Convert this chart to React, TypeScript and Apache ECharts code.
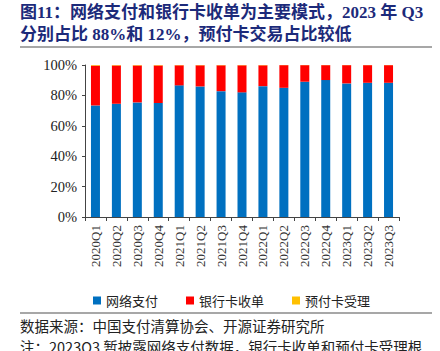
import React, { useEffect, useRef } from "react";
import * as echarts from "echarts";

const categories = [
  "2020Q1", "2020Q2", "2020Q3", "2020Q4",
  "2021Q1", "2021Q2", "2021Q3", "2021Q4",
  "2022Q1", "2022Q2", "2022Q3", "2022Q4",
  "2023Q1", "2023Q2", "2023Q3",
];
const onlinePay = [73.4, 74.5, 75.4, 75.0, 86.6, 85.9, 82.8, 82.0, 86.1, 85.0, 89.0, 90.1, 87.9, 88.3, 88.3];
const bankCard = [26.2, 25.2, 24.3, 24.7, 13.2, 13.9, 17.0, 17.8, 13.7, 14.9, 10.9, 9.8, 12.0, 11.6, 11.6];
const prepaidCard = [0.4, 0.3, 0.3, 0.3, 0.2, 0.2, 0.2, 0.2, 0.2, 0.1, 0.1, 0.1, 0.1, 0.1, 0.1];
const yTicks = [0, 20, 40, 60, 80, 100];

const titleLine1 = "图11：网络支付和银行卡收单为主要模式，2023 年 Q3";
const titleLine2 = "分别占比 88%和 12%，预付卡交易占比较低";
const sourceText = "数据来源：中国支付清算协会、开源证券研究所";
const noteText = "注：2023Q3 暂披露网络支付数据，银行卡收单和预付卡受理根";

const SERIF = "'Liberation Serif', 'Noto Sans CJK SC', serif";
const CJK = "'Noto Sans CJK SC', 'Liberation Serif', serif";

export default function App() {
  const ref = useRef<HTMLDivElement>(null);
  useEffect(() => {
    if (!ref.current) return;
    const chart = echarts.init(ref.current, undefined, { renderer: "svg" });
    chart.setOption({
      animation: false,
      backgroundColor: "#ffffff",
      grid: { left: 85, right: 41, top: 65, bottom: 134, containLabel: false },
      legend: {
        left: 88,
        top: 289,
        itemWidth: 8,
        itemHeight: 8,
        itemGap: 28,
        icon: "rect",
        textStyle: { fontFamily: CJK, fontSize: 13, color: "#222" },
        data: ["网络支付", "银行卡收单", "预付卡受理"],
      },
      xAxis: {
        type: "category",
        data: categories,
        axisLine: { lineStyle: { color: "#444", width: 1 } },
        axisTick: { show: true, alignWithLabel: false, length: 4, lineStyle: { color: "#444" } },
        axisLabel: {
          rotate: 90,
          interval: 0,
          fontFamily: SERIF,
          fontSize: 13,
          color: "#333",
          margin: 8,
        },
      },
      yAxis: {
        type: "value",
        min: yTicks[0],
        max: yTicks[yTicks.length - 1],
        interval: 20,
        splitLine: { show: false },
        axisLine: { show: true, lineStyle: { color: "#444", width: 1 } },
        axisTick: { show: true, length: 3, lineStyle: { color: "#444" } },
        axisLabel: {
          formatter: "{value}%",
          fontFamily: SERIF,
          fontSize: 14.5,
          color: "#222",
          margin: 8,
        },
      },
      series: [
        { name: "网络支付", type: "bar", stack: "s", data: onlinePay, barWidth: "43%", itemStyle: { color: "#0070C0" } },
        { name: "银行卡收单", type: "bar", stack: "s", data: bankCard, itemStyle: { color: "#FF0000" } },
        { name: "预付卡受理", type: "bar", stack: "s", data: prepaidCard, itemStyle: { color: "#FFC000" } },
      ],
      graphic: [
        {
          type: "text",
          left: 20,
          top: 4,
          style: { text: titleLine1, fontFamily: SERIF, fontWeight: "bold", fontSize: 17, fill: "#1c2a7a" },
        },
        {
          type: "text",
          left: 20,
          top: 26,
          style: { text: titleLine2, fontFamily: SERIF, fontWeight: "bold", fontSize: 17, fill: "#1c2a7a" },
        },
        {
          type: "line",
          shape: { x1: 20, y1: 47, x2: 432, y2: 47 },
          style: { stroke: "#8a8a8a", lineWidth: 1.5 },
        },
        {
          type: "line",
          shape: { x1: 20, y1: 313, x2: 432, y2: 313 },
          style: { stroke: "#8a8a8a", lineWidth: 1.5 },
        },
        {
          type: "text",
          left: 20,
          top: 318,
          style: { text: sourceText, fontFamily: CJK, fontSize: 14.5, fill: "#222" },
        },
        {
          type: "text",
          left: 20,
          top: 339,
          style: { text: noteText, fontFamily: CJK, fontSize: 14.5, fill: "#222" },
        },
      ],
    });
    return () => chart.dispose();
  }, []);
  return (
    <div
      ref={ref}
      style={{ position: "fixed", left: 0, top: 0, width: 440, height: 351, background: "#fff" }}
    />
  );
}
